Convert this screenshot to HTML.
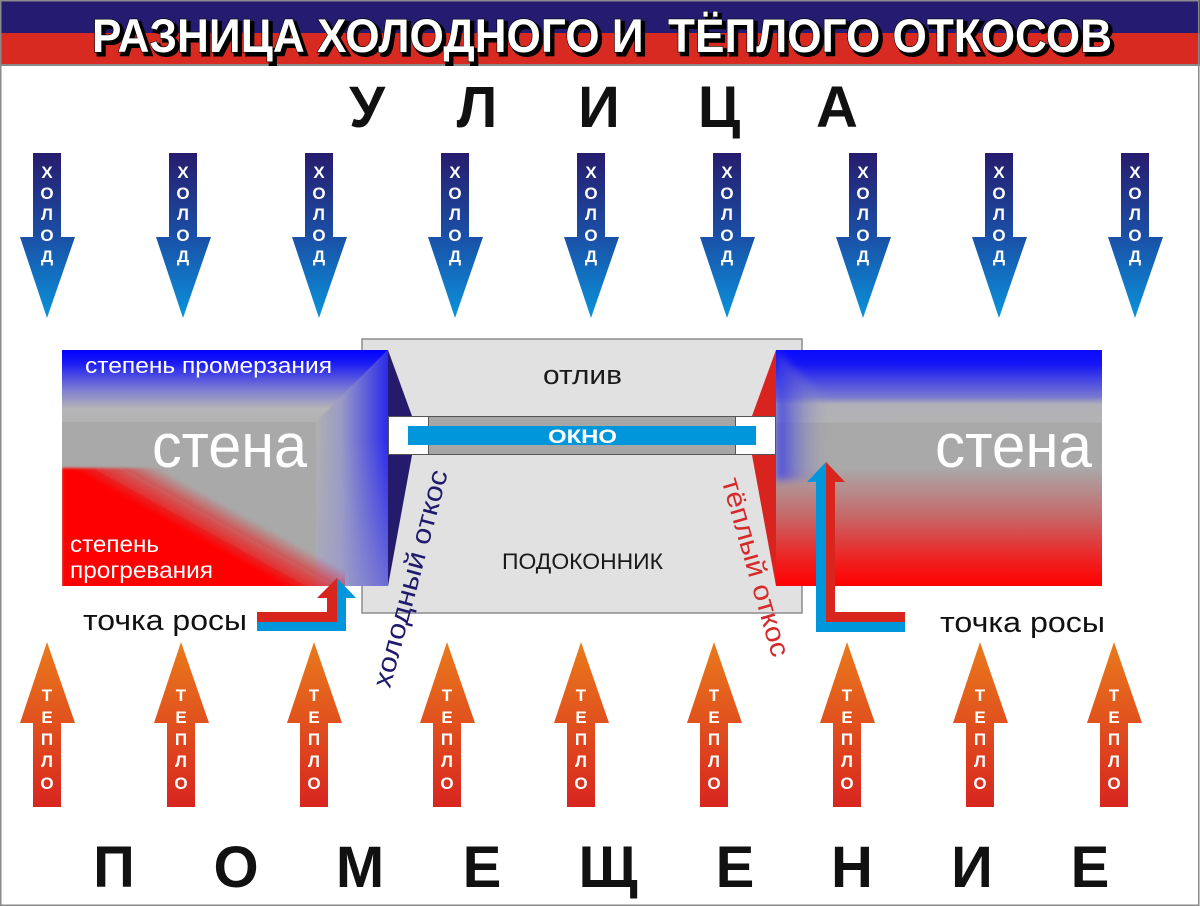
<!DOCTYPE html>
<html><head><meta charset="utf-8">
<style>
html,body{margin:0;padding:0;background:#fff;}
svg{display:block;}
text{font-family:"Liberation Sans","DejaVu Sans",sans-serif;}
</style></head>
<body>
<svg width="1200" height="906" viewBox="0 0 1200 906" xmlns="http://www.w3.org/2000/svg">
<defs>
  <linearGradient id="gBlue" x1="0" y1="0" x2="0" y2="1">
    <stop offset="0" stop-color="#271c6e"/>
    <stop offset="0.5" stop-color="#1a4fa6"/>
    <stop offset="1" stop-color="#0a93dc"/>
  </linearGradient>
  <linearGradient id="gWarm" x1="0" y1="0" x2="0" y2="1">
    <stop offset="0" stop-color="#e97b1c"/>
    <stop offset="1" stop-color="#d8251f"/>
  </linearGradient>
  <linearGradient id="lwTop" gradientUnits="userSpaceOnUse" x1="0" y1="350" x2="0" y2="422">
    <stop offset="0" stop-color="#0000ff"/>
    <stop offset="0.18" stop-color="#1a1af4"/>
    <stop offset="0.55" stop-color="#7c7cd2"/>
    <stop offset="0.82" stop-color="#b6b6b8"/>
    <stop offset="1" stop-color="#b2b2b2"/>
  </linearGradient>
  <linearGradient id="lwRight" gradientUnits="userSpaceOnUse" x1="316" y1="0" x2="388" y2="0">
    <stop offset="0" stop-color="#b0b0b0"/>
    <stop offset="0.35" stop-color="#9a9ac6"/>
    <stop offset="1" stop-color="#2a2aec"/>
  </linearGradient>
  <linearGradient id="lwRightFade" gradientUnits="userSpaceOnUse" x1="0" y1="440" x2="0" y2="586">
    <stop offset="0" stop-color="#a0a0c8" stop-opacity="0"/>
    <stop offset="1" stop-color="#a0a0c8" stop-opacity="0.55"/>
  </linearGradient>
  <linearGradient id="redFade" gradientUnits="userSpaceOnUse" x1="95" y1="482" x2="116" y2="444">
    <stop offset="0" stop-color="#ff0000" stop-opacity="1"/>
    <stop offset="0.5" stop-color="#f01010" stop-opacity="0.6"/>
    <stop offset="1" stop-color="#ff0000" stop-opacity="0"/>
  </linearGradient>
  <linearGradient id="rw" gradientUnits="userSpaceOnUse" x1="0" y1="350" x2="0" y2="586">
    <stop offset="0" stop-color="#0a0aff"/>
    <stop offset="0.06" stop-color="#1515f5"/>
    <stop offset="0.2" stop-color="#7a7ad0"/>
    <stop offset="0.23" stop-color="#b0b0b8"/>
    <stop offset="0.305" stop-color="#b3b3b3"/>
    <stop offset="0.31" stop-color="#a8a8a8"/>
    <stop offset="0.5" stop-color="#a9a9a9"/>
    <stop offset="0.7" stop-color="#c56a6a"/>
    <stop offset="0.88" stop-color="#ee2424"/>
    <stop offset="1" stop-color="#ff0000"/>
  </linearGradient>
  <linearGradient id="rwLeft" gradientUnits="userSpaceOnUse" x1="776" y1="0" x2="832" y2="0">
    <stop offset="0" stop-color="#3232ea" stop-opacity="0.85"/>
    <stop offset="1" stop-color="#b0b0b0" stop-opacity="0"/>
  </linearGradient>
  <filter id="blur1" x="-5%" y="-5%" width="110%" height="110%">
    <feGaussianBlur stdDeviation="1.2"/>
  </filter>
  <filter id="blur3" x="-20%" y="-20%" width="140%" height="140%">
    <feGaussianBlur stdDeviation="4"/>
  </filter>
  <clipPath id="lwRedClip"><rect x="62" y="350" width="283" height="236"/></clipPath>
  <clipPath id="rwClip"><rect x="776" y="350" width="326" height="236"/></clipPath>
  <path id="down" d="M-14,153 H14 V237 H28 L0,318 L-27,237 H-14 Z"/>
  <path id="up" d="M0,642 L28,723 H14 V807 H-14 V723 H-27 Z"/>
</defs>

<rect x="0" y="0" width="1200" height="906" fill="#fff"/>

<!-- header -->
<rect x="0" y="0" width="1200" height="33" fill="#251c72"/>
<rect x="0" y="33" width="1200" height="32" fill="#d92a22"/>
<rect x="0" y="64" width="1200" height="2" fill="#8a8a8a"/>
<text x="95" y="55" font-size="47" font-weight="bold" fill="#000" stroke="#000" stroke-width="3" textLength="1020" lengthAdjust="spacingAndGlyphs" style="white-space:pre">РАЗНИЦА ХОЛОДНОГО И  ТЁПЛОГО ОТКОСОВ</text>
<text x="92" y="52" font-size="47" font-weight="bold" fill="#fff" stroke="#000" stroke-width="1.2" textLength="1020" lengthAdjust="spacingAndGlyphs" style="white-space:pre;paint-order:stroke">РАЗНИЦА ХОЛОДНОГО И  ТЁПЛОГО ОТКОСОВ</text>

<!-- УЛИЦА -->
<g font-size="58" font-weight="bold" fill="#111" text-anchor="middle">
  <text x="367" y="127">У</text>
  <text x="477" y="127">Л</text>
  <text x="599" y="127">И</text>
  <text x="719" y="127">Ц</text>
  <text x="837" y="127">А</text>
</g>

<!-- cold arrows -->
<g fill="url(#gBlue)">
  <use href="#down" x="47"/>
  <use href="#down" x="183"/>
  <use href="#down" x="319"/>
  <use href="#down" x="455"/>
  <use href="#down" x="591"/>
  <use href="#down" x="727"/>
  <use href="#down" x="863"/>
  <use href="#down" x="999"/>
  <use href="#down" x="1135"/>
</g>
<g font-size="17" font-weight="bold" fill="#fff" text-anchor="middle">
  <text><tspan x="47" y="178">Х</tspan><tspan x="47" y="199">О</tspan><tspan x="47" y="220">Л</tspan><tspan x="47" y="241">О</tspan><tspan x="47" y="262">Д</tspan></text>
  <text><tspan x="183" y="178">Х</tspan><tspan x="183" y="199">О</tspan><tspan x="183" y="220">Л</tspan><tspan x="183" y="241">О</tspan><tspan x="183" y="262">Д</tspan></text>
  <text><tspan x="319" y="178">Х</tspan><tspan x="319" y="199">О</tspan><tspan x="319" y="220">Л</tspan><tspan x="319" y="241">О</tspan><tspan x="319" y="262">Д</tspan></text>
  <text><tspan x="455" y="178">Х</tspan><tspan x="455" y="199">О</tspan><tspan x="455" y="220">Л</tspan><tspan x="455" y="241">О</tspan><tspan x="455" y="262">Д</tspan></text>
  <text><tspan x="591" y="178">Х</tspan><tspan x="591" y="199">О</tspan><tspan x="591" y="220">Л</tspan><tspan x="591" y="241">О</tspan><tspan x="591" y="262">Д</tspan></text>
  <text><tspan x="727" y="178">Х</tspan><tspan x="727" y="199">О</tspan><tspan x="727" y="220">Л</tspan><tspan x="727" y="241">О</tspan><tspan x="727" y="262">Д</tspan></text>
  <text><tspan x="863" y="178">Х</tspan><tspan x="863" y="199">О</tspan><tspan x="863" y="220">Л</tspan><tspan x="863" y="241">О</tspan><tspan x="863" y="262">Д</tspan></text>
  <text><tspan x="999" y="178">Х</tspan><tspan x="999" y="199">О</tspan><tspan x="999" y="220">Л</tspan><tspan x="999" y="241">О</tspan><tspan x="999" y="262">Д</tspan></text>
  <text><tspan x="1135" y="178">Х</tspan><tspan x="1135" y="199">О</tspan><tspan x="1135" y="220">Л</tspan><tspan x="1135" y="241">О</tspan><tspan x="1135" y="262">Д</tspan></text>
</g>

<!-- central window box -->
<rect x="362" y="339" width="440" height="274" fill="#e1e1e1" stroke="#8c8c8c" stroke-width="1.5"/>
<polygon points="388,350 412,416 388,416" fill="#241b6c"/>
<polygon points="388,455 412,455 388,586" fill="#241b6c"/>
<polygon points="776,350 752,416 776,416" fill="#d8231f"/>
<polygon points="776,455 752,455 776,586" fill="#d8231f"/>
<rect x="388.5" y="416.5" width="387" height="38" fill="#fff" stroke="#555" stroke-width="1"/>
<rect x="428.5" y="416.5" width="307" height="38" fill="#a6a6a6" stroke="#555" stroke-width="1"/>
<rect x="408" y="426" width="348" height="19" fill="#0096db"/>
<text x="548" y="443" font-size="19" font-weight="bold" fill="#fff" textLength="69" lengthAdjust="spacingAndGlyphs">ОКНО</text>
<text x="543" y="384" font-size="27" fill="#1a1a1a" textLength="79" lengthAdjust="spacingAndGlyphs">отлив</text>
<text x="502" y="569" font-size="22" fill="#1a1a1a" textLength="161" lengthAdjust="spacingAndGlyphs">ПОДОКОННИК</text>

<!-- left wall -->
<rect x="62" y="350" width="326" height="236" fill="#a9a9a9"/>
<polygon points="62,350 388,350 316,422 62,422" fill="url(#lwTop)"/>
<polygon points="388,350 388,586 316,586 316,422" fill="url(#lwRight)"/>
<polygon points="388,350 388,586 316,586 316,422" fill="url(#lwRightFade)"/>
<g clip-path="url(#lwRedClip)">
  <rect x="62" y="468" width="326" height="130" fill="url(#redFade)" filter="url(#blur1)"/>
</g>
<text x="85" y="373" font-size="22" fill="#fff" textLength="247" lengthAdjust="spacingAndGlyphs">степень промерзания</text>
<text x="152" y="467" font-size="62" fill="#fff" textLength="155" lengthAdjust="spacingAndGlyphs">стена</text>
<text x="70" y="552" font-size="23" fill="#fff" textLength="89" lengthAdjust="spacingAndGlyphs">степень</text>
<text x="70" y="578" font-size="23" fill="#fff" textLength="143" lengthAdjust="spacingAndGlyphs">прогревания</text>

<!-- right wall -->
<rect x="776" y="350" width="326" height="236" fill="url(#rw)"/>
<g clip-path="url(#rwClip)">
  <polygon points="776,350 830,404 830,480 776,480" fill="url(#rwLeft)" filter="url(#blur3)"/>
</g>
<text x="935" y="467" font-size="62" fill="#fff" textLength="157" lengthAdjust="spacingAndGlyphs">стена</text>

<!-- dew point arrows -->
<polygon points="257,612 327,612 327,598 317,598 337,578 337,622 257,622" fill="#d8261f"/>
<polygon points="257,622 337,622 337,578 356,598 346,598 346,631 257,631" fill="#0096db"/>
<polygon points="826,462 845,482 835,482 835,612 905,612 905,622 826,622" fill="#d8261f"/>
<polygon points="826,462 807,482 816,482 816,632 905,632 905,622 826,622" fill="#0096db"/>
<text x="83" y="630" font-size="29" fill="#111" textLength="164" lengthAdjust="spacingAndGlyphs">точка росы</text>
<text x="940" y="632" font-size="29" fill="#111" textLength="165" lengthAdjust="spacingAndGlyphs">точка росы</text>

<!-- rotated labels -->
<text transform="translate(390,689) rotate(-75)" font-size="27" fill="#1f1a6b" textLength="224" lengthAdjust="spacingAndGlyphs">холодный откос</text>
<text transform="translate(721.5,480.7) rotate(74)" font-size="27" fill="#d62a2a" textLength="185" lengthAdjust="spacingAndGlyphs">тёплый откос</text>

<!-- warm arrows -->
<g fill="url(#gWarm)">
  <use href="#up" x="47"/>
  <use href="#up" x="181"/>
  <use href="#up" x="314"/>
  <use href="#up" x="447"/>
  <use href="#up" x="581"/>
  <use href="#up" x="714"/>
  <use href="#up" x="847"/>
  <use href="#up" x="980"/>
  <use href="#up" x="1114"/>
</g>
<g font-size="17" font-weight="bold" fill="#fff" text-anchor="middle">
  <text><tspan x="47" y="701">Т</tspan><tspan x="47" y="723">Е</tspan><tspan x="47" y="745">П</tspan><tspan x="47" y="767">Л</tspan><tspan x="47" y="789">О</tspan></text>
  <text><tspan x="181" y="701">Т</tspan><tspan x="181" y="723">Е</tspan><tspan x="181" y="745">П</tspan><tspan x="181" y="767">Л</tspan><tspan x="181" y="789">О</tspan></text>
  <text><tspan x="314" y="701">Т</tspan><tspan x="314" y="723">Е</tspan><tspan x="314" y="745">П</tspan><tspan x="314" y="767">Л</tspan><tspan x="314" y="789">О</tspan></text>
  <text><tspan x="447" y="701">Т</tspan><tspan x="447" y="723">Е</tspan><tspan x="447" y="745">П</tspan><tspan x="447" y="767">Л</tspan><tspan x="447" y="789">О</tspan></text>
  <text><tspan x="581" y="701">Т</tspan><tspan x="581" y="723">Е</tspan><tspan x="581" y="745">П</tspan><tspan x="581" y="767">Л</tspan><tspan x="581" y="789">О</tspan></text>
  <text><tspan x="714" y="701">Т</tspan><tspan x="714" y="723">Е</tspan><tspan x="714" y="745">П</tspan><tspan x="714" y="767">Л</tspan><tspan x="714" y="789">О</tspan></text>
  <text><tspan x="847" y="701">Т</tspan><tspan x="847" y="723">Е</tspan><tspan x="847" y="745">П</tspan><tspan x="847" y="767">Л</tspan><tspan x="847" y="789">О</tspan></text>
  <text><tspan x="980" y="701">Т</tspan><tspan x="980" y="723">Е</tspan><tspan x="980" y="745">П</tspan><tspan x="980" y="767">Л</tspan><tspan x="980" y="789">О</tspan></text>
  <text><tspan x="1114" y="701">Т</tspan><tspan x="1114" y="723">Е</tspan><tspan x="1114" y="745">П</tspan><tspan x="1114" y="767">Л</tspan><tspan x="1114" y="789">О</tspan></text>
</g>

<!-- ПОМЕЩЕНИЕ -->
<g font-size="58" font-weight="bold" fill="#111" text-anchor="middle">
  <text x="114" y="887">П</text>
  <text x="236" y="887">О</text>
  <text x="360" y="887">М</text>
  <text x="482" y="887">Е</text>
  <text x="608" y="887">Щ</text>
  <text x="735" y="887">Е</text>
  <text x="852" y="887">Н</text>
  <text x="972" y="887">И</text>
  <text x="1090" y="887">Е</text>
</g>

<!-- outer border -->
<rect x="0.75" y="0.75" width="1198" height="904.5" fill="none" stroke="#8a8a8a" stroke-width="1.5"/>
</svg>
</body></html>
